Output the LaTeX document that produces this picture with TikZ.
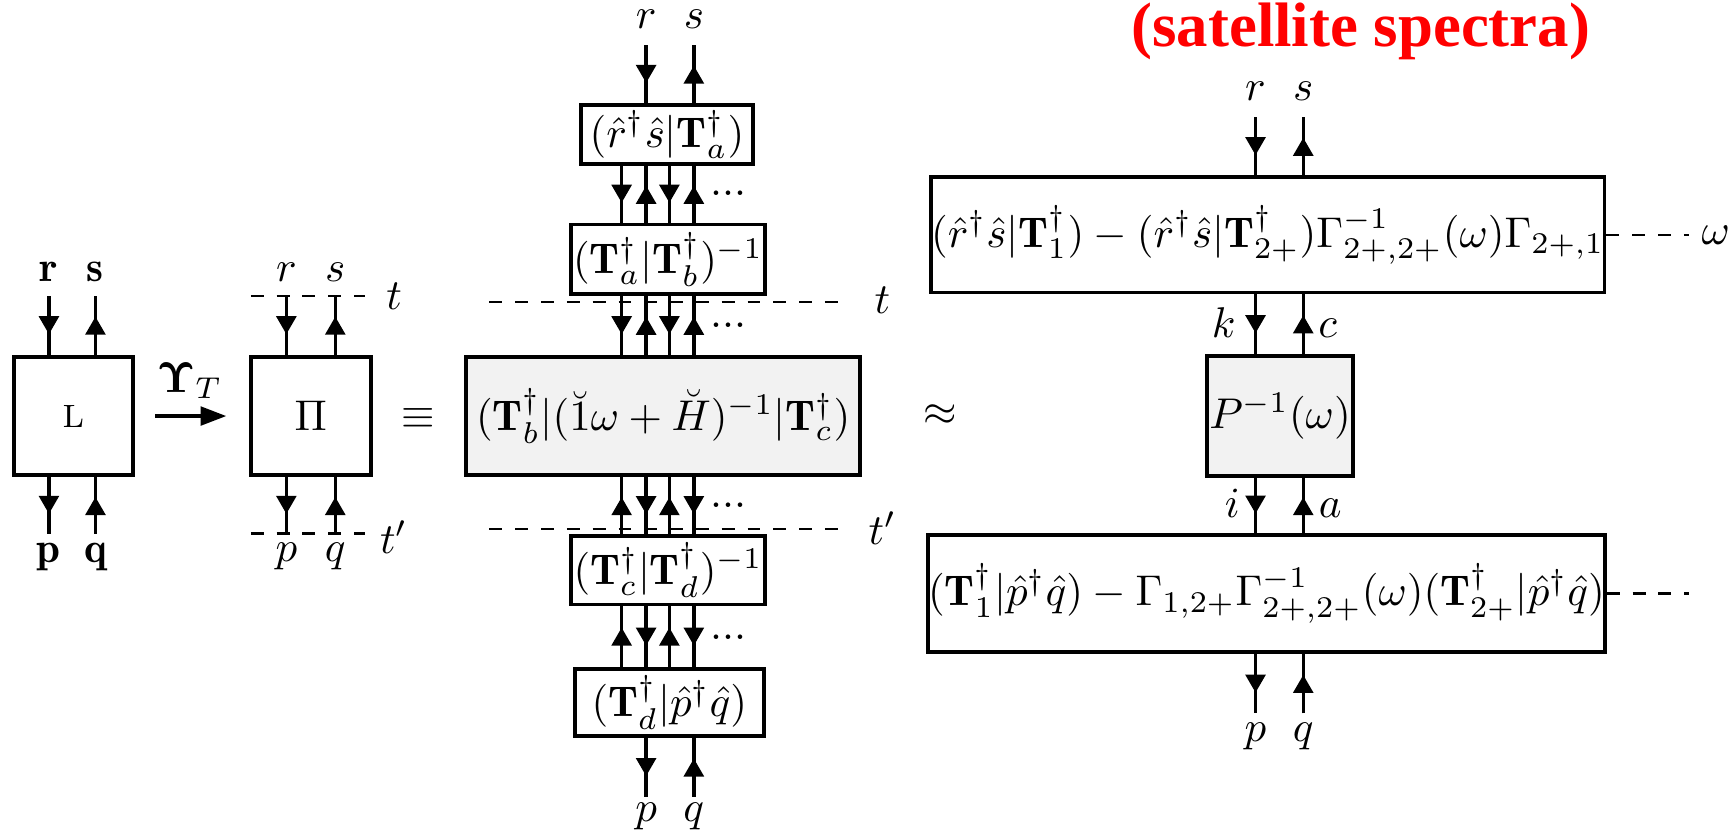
\documentclass[tikz,border=0pt]{standalone}
\usepackage{fontspec}
\newfontfamily\satfont{Liberation Serif}
\usepackage{amsmath}
\DeclareSymbolFont{cmbx}{OT1}{cmr}{bx}{n}
\DeclareMathSymbol{\bfUpsilon}{\mathord}{cmbx}{"07}
\usetikzlibrary{arrows.meta, decorations.markings}

\begin{document}
\begin{tikzpicture}[
        bx/.style  = {draw, line width=0.9pt, inner sep=0.5pt, fill=white},
        gbx/.style = {bx, fill=gray!10},
        wbx/.style = {bx, inner sep=0pt},
        fl/.style  = {thick, decoration={markings, mark=at position 0.65 with {\arrow{Triangle[length=4.2pt, width=4.6pt]}}}, postaction={decorate}},
        cut/.style = {dashed, line width=0.5pt},
        lbl/.style = {anchor=base, inner sep=0pt}
    ]
        \useasboundingbox (0,0) rectangle (14.17,6.79);

        % left: L and Pi
        \node[bx, minimum width=0.97cm, minimum height=0.97cm] (L)  at (0.60,3.39) {\fontsize{7.5}{9}\selectfont L};
        \node[bx, minimum width=0.98cm, minimum height=0.97cm] (Pi) at (2.54,3.39) {$\Pi$};

        \coordinate (Lr) at (0.40,4.37);  \coordinate (Ls) at (0.78,4.37);
        \coordinate (Lp) at (0.40,2.43);  \coordinate (Lq) at (0.78,2.43);
        \draw[fl] (Lr) -- (Lr |- L.north);
        \draw[fl] (Ls |- L.north) -- (Ls);
        \draw[fl] (Lp |- L.south) -- (Lp);
        \draw[fl] (Lq) -- (Lq |- L.south);
        \node[lbl] (Lrl) at (0.40,4.49) {$\mathbf{r}$};
        \node[lbl] (Lsl) at (0.78,4.49) {$\mathbf{s}$};
        \node[lbl] (Lpl) at (0.40,2.19) {$\mathbf{p}$};
        \node[lbl] (Lql) at (0.78,2.19) {$\mathbf{q}$};

        \coordinate (u1) at (1.27,3.39);  \coordinate (u2) at (1.85,3.39);
        \draw[line width=0.9pt, -{Triangle[length=6pt, width=4.3pt]}] (u1) -- (u2);
        \node (ups) at (1.55,3.68) {$\bfUpsilon_T$};

        \coordinate (Pr) at (2.34,4.37);  \coordinate (Ps) at (2.74,4.37);
        \coordinate (Pp) at (2.34,2.43);  \coordinate (Pq) at (2.74,2.43);
        \coordinate (t1) at (2.05,4.37);  \coordinate (t2) at (2.98,4.37);
        \coordinate (t3) at (2.05,2.43);  \coordinate (t4) at (2.98,2.43);
        \draw[cut] (t1) -- (t2);
        \draw[cut] (t3) -- (t4);
        \draw[fl] (Pr) -- (Pr |- Pi.north);
        \draw[fl] (Ps |- Pi.north) -- (Ps);
        \draw[fl] (Pp |- Pi.south) -- (Pp);
        \draw[fl] (Pq) -- (Pq |- Pi.south);
        \node[lbl] (Prl) at (2.34,4.49) {$r$};
        \node[lbl] (Psl) at (2.74,4.49) {$s$};
        \node[lbl] (Ppl) at (2.34,2.20) {$p$};
        \node[lbl] (Pql) at (2.74,2.20) {$q$};
        \node[lbl] (Ptl) at (3.22,4.26) {$t$};
        \node[lbl] (Ptl2) at (3.22,2.27) {$t'$};

        \node (eq) at (3.42,3.37) {$\equiv$};

        % middle chain
        \node[bx, minimum width=1.41cm, minimum height=0.48cm] (A) at (5.45,5.69) {$(\hat r^\dagger \hat s|\mathbf{T}_a^\dagger)$};
        \node[bx, minimum width=1.54cm, minimum height=0.57cm] (B) at (5.46,4.67) {$(\mathbf{T}_a^\dagger|\mathbf{T}_b^\dagger)^{-1}$};
        \node[gbx, minimum width=3.22cm, minimum height=0.97cm] (G) at (5.42,3.39) {$(\mathbf{T}_b^\dagger|(\breve{1}\omega+\breve{H})^{-1}|\mathbf{T}_c^\dagger)$};
        \node[bx, minimum width=1.54cm, minimum height=0.56cm] (C) at (5.46,2.13) {$(\mathbf{T}_c^\dagger|\mathbf{T}_d^\dagger)^{-1}$};
        \node[bx, minimum width=1.54cm, minimum height=0.55cm] (D) at (5.47,1.05) {$(\mathbf{T}_d^\dagger|\hat p^\dagger \hat q)$};

        \coordinate (c1) at (5.08,0);  \coordinate (c2) at (5.28,0);
        \coordinate (c3) at (5.47,0);  \coordinate (c4) at (5.67,0);
        \coordinate (Mr) at (5.28,6.42);  \coordinate (Ms) at (5.67,6.42);
        \coordinate (Mp) at (5.28,0.28);  \coordinate (Mq) at (5.67,0.28);

        \draw[cut] (4.00,4.32) coordinate (m1) -- (6.93,4.32) coordinate (m2);
        \draw[cut] (4.00,2.47) coordinate (m3) -- (6.93,2.47) coordinate (m4);

        \draw[fl] (Mr) -- (Mr |- A.north);
        \draw[fl] (Ms |- A.north) -- (Ms);
        \draw[fl] (c1 |- A.south) -- (c1 |- B.north);
        \draw[fl] (c2 |- B.north) -- (c2 |- A.south);
        \draw[fl] (c3 |- A.south) -- (c3 |- B.north);
        \draw[fl] (c4 |- B.north) -- (c4 |- A.south);
        \draw[fl] (c1 |- B.south) -- (c1 |- G.north);
        \draw[fl] (c2 |- G.north) -- (c2 |- B.south);
        \draw[fl] (c3 |- B.south) -- (c3 |- G.north);
        \draw[fl] (c4 |- G.north) -- (c4 |- B.south);
        \draw[fl] (c1 |- C.north) -- (c1 |- G.south);
        \draw[fl] (c2 |- G.south) -- (c2 |- C.north);
        \draw[fl] (c3 |- C.north) -- (c3 |- G.south);
        \draw[fl] (c4 |- G.south) -- (c4 |- C.north);
        \draw[fl] (c1 |- D.north) -- (c1 |- C.south);
        \draw[fl] (c2 |- C.south) -- (c2 |- D.north);
        \draw[fl] (c3 |- D.north) -- (c3 |- C.south);
        \draw[fl] (c4 |- C.south) -- (c4 |- D.north);
        \draw[fl] (Mp |- D.south) -- (Mp);
        \draw[fl] (Mq) -- (Mq |- D.south);

        \node (d1) at (5.95,5.21) {...};
        \node (d2) at (5.95,4.13) {...};
        \node (d3) at (5.95,2.66) {...};
        \node (d4) at (5.95,1.58) {...};

        \node[lbl] (Mrl) at (5.28,6.56) {$r$};
        \node[lbl] (Msl) at (5.67,6.56) {$s$};
        \node[lbl] (Mpl) at (5.28,0.08) {$p$};
        \node[lbl] (Mql) at (5.67,0.08) {$q$};
        \node[lbl] (Mtl) at (7.21,4.23) {$t$};
        \node[lbl] (Mtl2) at (7.21,2.34) {$t'$};

        \node (ap) at (7.68,3.40) {$\approx$};

        % right: satellite approximation
        \node[lbl, text=red] (sat) at (11.12,6.41) {\satfont\bfseries\fontsize{14.6}{17}\selectfont (satellite spectra)};

        \node[wbx, minimum width=5.45cm, minimum height=0.94cm] (T) at (10.36,4.87)
            {$(\hat r^\dagger \hat s|\mathbf{T}_1^\dagger) - (\hat r^\dagger \hat s|\mathbf{T}_{2+}^\dagger)\Gamma^{-1}_{2+,2+}(\omega)\Gamma_{2+,1}$};
        \node[gbx, minimum width=1.16cm, minimum height=0.98cm] (P) at (10.46,3.39) {$P^{-1}(\omega)$};
        \node[wbx, minimum width=5.46cm, minimum height=0.96cm] (U) at (10.35,1.94)
            {$(\mathbf{T}_1^\dagger|\hat p^\dagger \hat q) - \Gamma_{1,2+}\Gamma^{-1}_{2+,2+}(\omega)(\mathbf{T}_{2+}^\dagger|\hat p^\dagger \hat q)$};

        \coordinate (Rr) at (10.26,5.83);  \coordinate (Rs) at (10.65,5.83);
        \coordinate (Rp) at (10.26,0.96);  \coordinate (Rq) at (10.65,0.96);
        \draw[fl] (Rr) -- (Rr |- T.north);
        \draw[fl] (Rs |- T.north) -- (Rs);
        \draw[fl] (Rr |- T.south) -- (Rr |- P.north);
        \draw[fl] (Rs |- P.north) -- (Rs |- T.south);
        \draw[fl] (Rr |- P.south) -- (Rr |- U.north);
        \draw[fl] (Rs |- U.north) -- (Rs |- P.south);
        \draw[fl] (Rp |- U.south) -- (Rp);
        \draw[fl] (Rq) -- (Rq |- U.south);

        \coordinate (w1) at (13.80,4.87);  \coordinate (w2) at (13.80,1.94);
        \draw[cut] (T.east) -- (w1);
        \draw[cut] (U.east) -- (w2);
        \node (om) at (14.02,4.87) {$\omega$};

        \node[lbl] (Rrl) at (10.26,5.97) {$r$};
        \node[lbl] (Rsl) at (10.65,5.97) {$s$};
        \node[lbl] (Rkl) at (10.00,4.03) {$k$};
        \node[lbl] (Rcl) at (10.85,4.03) {$c$};
        \node[lbl] (Ril) at (10.07,2.56) {$i$};
        \node[lbl] (Ral) at (10.87,2.56) {$a$};
        \node[lbl] (Rpl) at (10.26,0.73) {$p$};
        \node[lbl] (Rql) at (10.65,0.73) {$q$};
    \end{tikzpicture}
\end{document}
